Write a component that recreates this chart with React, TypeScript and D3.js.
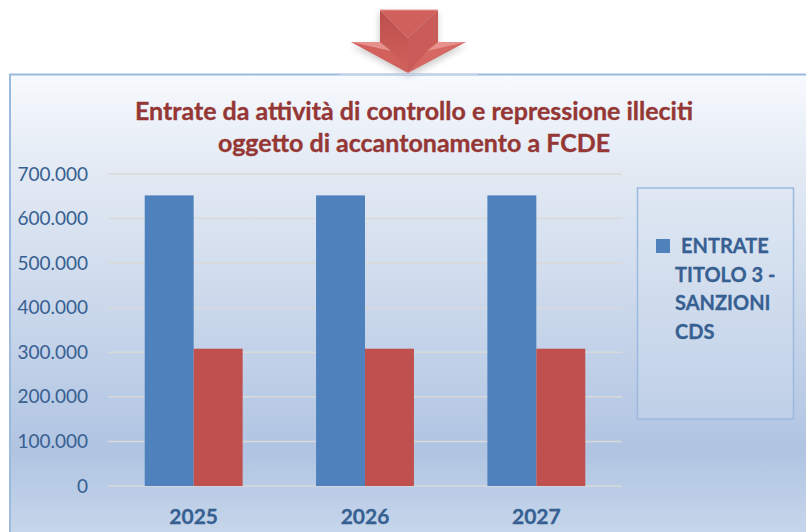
import React from "react";
import * as d3 from "d3";

const categories = ["2025", "2026", "2027"];
const seriesBlue = [652000, 652000, 652000];
const seriesRed = [308000, 308000, 308000];
const yTicks = [0, 100000, 200000, 300000, 400000, 500000, 600000, 700000];
const titleLines = ["Entrate da attività di controllo e repressione illeciti", "oggetto di accantonamento a FCDE"];
const legendLines = ["ENTRATE", "TITOLO 3 -", "SANZIONI", "CDS"];

const fmt = (v: number) => (v === 0 ? "0" : d3.format(",")(v).replace(/,/g, "."));

export default function App() {
  const y = d3.scaleLinear().domain([0, 700000]).range([486, 174]);
  const x0 = d3.scaleBand().domain(categories).range([108, 622]).paddingInner(0.4286).paddingOuter(0.2143);
  const x1 = d3.scaleBand().domain(["blue", "red"]).range([0, x0.bandwidth()]);
  const font = "Lato, 'Open Sans', sans-serif";
  return (
    <svg width={806} height={532} style={{ position: "fixed", left: 0, top: 0, background: "#fff" }} fontFamily={font}>
      <defs>
        <linearGradient id="bg" x1="0" y1="0" x2="0" y2="1">
          <stop offset="0" stopColor="#f7fafe" />
          <stop offset="0.2" stopColor="#e3eaf4" />
          <stop offset="0.4" stopColor="#d3deee" />
          <stop offset="0.8" stopColor="#b0c4e2" />
          <stop offset="1" stopColor="#c9d9ec" />
        </linearGradient>
        <linearGradient id="fold" x1="0" y1="0" x2="0" y2="1">
          <stop offset="0" stopColor="#bc4f4b" />
          <stop offset="1" stopColor="#d0625e" />
        </linearGradient>
        <filter id="sh" x="-20%" y="-20%" width="140%" height="150%">
          <feGaussianBlur stdDeviation="3" />
        </filter>
      </defs>

      <rect x={10} y={74.5} width={800} height={470} fill="url(#bg)" stroke="#9cb9de" strokeWidth={2} />

      {/* arrow */}
      <polygon points="351,43 379,43 379,10 438,10 438,43 466,43 409,74" fill="#555" opacity={0.28} filter="url(#sh)" transform="translate(0,3)" />
      <line x1={340} x2={478} y1={74.5} y2={74.5} stroke="#c4d3e8" strokeWidth={1.5} />
      <polygon points="380,10 408,38 408,73 380,43" fill="url(#fold)" />
      <polygon points="438,10 408,38 408,73 438,43" fill="#c95c58" />
      <polygon points="380,10 438,10 408,38" fill="#d0605b" />
      <polygon points="351,42 380,42 392,52 408,73" fill="#d2605c" />
      <polygon points="351,42 380,42 391,51" fill="#e8908b" />
      <polygon points="466,42 438,42 426,52 408,73" fill="#d66863" />
      <polygon points="466,42 438,42 427,51" fill="#e8908b" />
      <line x1={380} x2={438} y1={10} y2={10} stroke="#e49a96" strokeWidth={1} />

      {/* title */}
      {titleLines.map((t, i) => (
        <text key={t} x={414} y={120 + i * 32} textAnchor="middle" fontSize={25} fontWeight={700} fill="#953735" stroke="#953735" strokeWidth={0.35}>{t}</text>
      ))}

      {/* grid and y axis */}
      {yTicks.map((t) => (
        <g key={t}>
          <line x1={108} x2={622} y1={y(t)} y2={y(t)} stroke="#d9d9d9" strokeWidth={1.5} />
          <text x={88} y={y(t) + 6.5} textAnchor="end" fontSize={19} fill="#376092">{fmt(t)}</text>
        </g>
      ))}

      {/* bars */}
      {categories.map((c, i) => (
        <g key={c}>
          <rect x={x0(c)! + x1("blue")!} y={y(seriesBlue[i])} width={x1.bandwidth()} height={y(0) - y(seriesBlue[i])} fill="#4f81bd" />
          <rect x={x0(c)! + x1("red")!} y={y(seriesRed[i])} width={x1.bandwidth()} height={y(0) - y(seriesRed[i])} fill="#c0504d" />
          <text x={x0(c)! + x0.bandwidth() / 2} y={524} textAnchor="middle" fontSize={21} fontWeight={700} fill="#376092" stroke="#376092" strokeWidth={0.3}>{c}</text>
        </g>
      ))}

      {/* legend */}
      <rect x={637.5} y={188} width={156} height={231} fill="#dce6f2" fillOpacity={0.25} stroke="#9cb9de" strokeWidth={1.5} />
      <rect x={656} y={239} width={14} height={14} fill="#4f81bd" />
      {legendLines.map((t, i) => (
        <text key={t} x={i === 0 ? 681 : 675} y={253 + i * 28.7} fontSize={20} fontWeight={700} fill="#376092" stroke="#376092" strokeWidth={0.3}>{t}</text>
      ))}
    </svg>
  );
}
